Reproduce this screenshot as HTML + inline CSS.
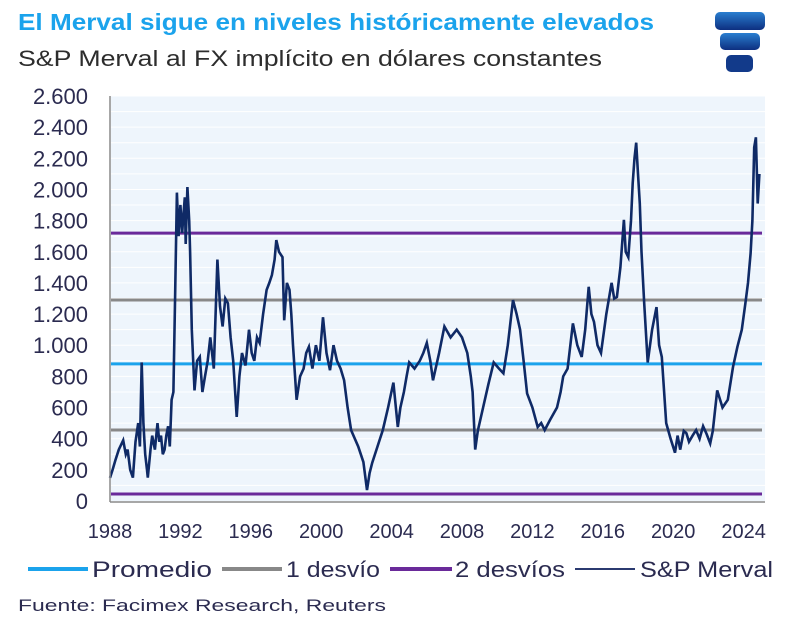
<!DOCTYPE html>
<html><head><meta charset="utf-8"><style>
html,body{margin:0;padding:0;background:#fff;width:800px;height:635px;overflow:hidden}
svg{display:block;font-family:"Liberation Sans",sans-serif}
</style></head><body>
<svg id="chart" width="800" height="635" viewBox="0 0 800 635" xmlns="http://www.w3.org/2000/svg">
<defs><linearGradient id="lg" x1="0" y1="0" x2="0" y2="1"><stop offset="0" stop-color="#2a7fd0"/><stop offset="1" stop-color="#0d2f80"/></linearGradient></defs>
<text x="18" y="30" font-size="23" font-weight="bold" fill="#1ba3ec" textLength="636" lengthAdjust="spacingAndGlyphs">El Merval sigue en niveles históricamente elevados</text>
<text x="18" y="66" font-size="22" fill="#2d2d2d" textLength="584" lengthAdjust="spacingAndGlyphs">S&amp;P Merval al FX implícito en dólares constantes</text>
<g>
<rect x="715" y="12" width="50" height="18" rx="5" fill="url(#lg)"/>
<rect x="720" y="33" width="40" height="17" rx="5" fill="url(#lg)"/>
<rect x="726" y="55" width="27" height="17" rx="5" fill="#123a8a"/>
</g>
<rect x="111" y="96" width="654" height="405" fill="#eef5fc"/>
<g id="grid"></g>
<g id="yticks"></g>
<g id="xticks"></g>
<g id="refs"></g>
<path id="series" fill="none" stroke="#0f2a66" stroke-width="2.6" stroke-linejoin="miter"/>
<line x1="110" y1="96" x2="110" y2="502" stroke="#8a8a8a" stroke-width="1.5"/>
<line x1="110" y1="502" x2="765" y2="502" stroke="#8a8a8a" stroke-width="1.5"/>
<g font-size="22" fill="#2b2b50">
<g><line x1="28" y1="569" x2="88" y2="569" stroke="#1ba3ec" stroke-width="4"/><text x="92" y="577" textLength="120" lengthAdjust="spacingAndGlyphs">Promedio</text></g>
<g><line x1="222" y1="569" x2="282" y2="569" stroke="#888" stroke-width="4"/><text x="286" y="577" textLength="94" lengthAdjust="spacingAndGlyphs">1 desvío</text></g>
<g><line x1="390" y1="569" x2="452" y2="569" stroke="#6a2a9a" stroke-width="4"/><text x="455" y="577" textLength="110" lengthAdjust="spacingAndGlyphs">2 desvíos</text></g>
<g><line x1="575" y1="569" x2="635" y2="569" stroke="#2b3a70" stroke-width="2"/><text x="640" y="577" textLength="133" lengthAdjust="spacingAndGlyphs">S&amp;P Merval</text></g>
</g>
<text x="18" y="611" font-size="17" fill="#2b2b50" textLength="368" lengthAdjust="spacingAndGlyphs">Fuente: Facimex Research, Reuters</text>
</svg>
<script>
const yTicks=[0,200,400,600,800,1000,1200,1400,1600,1800,2000,2200,2400,2600];
const yTickLabels=["0","200","400","600","800","1.000","1.200","1.400","1.600","1.800","2.000","2.200","2.400","2.600"];
const xTicks=[1988,1992,1996,2000,2004,2008,2012,2016,2020,2024];
const refNames=["promedio","1-desvio-sup","1-desvio-inf","2-desvios-sup","2-desvios-inf"];
const refValues=[880,1290,456,1720,45];
const refColors=["#1ba3ec","#888888","#888888","#6a2a9a","#6a2a9a"];
const dates=[1988.0,1988.15,1988.3,1988.5,1988.75,1988.9,1989.0,1989.15,1989.3,1989.45,1989.6,1989.7,1989.8,1989.9,1990.0,1990.1,1990.15,1990.3,1990.4,1990.55,1990.7,1990.8,1990.9,1991.0,1991.1,1991.2,1991.3,1991.4,1991.5,1991.6,1991.7,1991.8,1991.9,1992.0,1992.1,1992.15,1992.25,1992.3,1992.4,1992.5,1992.55,1992.65,1992.8,1992.95,1993.1,1993.25,1993.4,1993.55,1993.7,1993.9,1994.1,1994.25,1994.4,1994.55,1994.7,1994.85,1995.0,1995.2,1995.35,1995.5,1995.7,1995.9,1996.05,1996.2,1996.35,1996.5,1996.7,1996.9,1997.05,1997.2,1997.35,1997.45,1997.6,1997.8,1997.9,1998.05,1998.2,1998.3,1998.4,1998.6,1998.8,1999.0,1999.15,1999.3,1999.5,1999.7,1999.9,2000.1,2000.3,2000.5,2000.7,2000.9,2001.1,2001.3,2001.5,2001.7,2002.1,2002.4,2002.6,2002.75,2002.9,2003.2,2003.5,2003.8,2004.1,2004.35,2004.5,2004.7,2004.85,2005.0,2005.3,2005.6,2005.8,2006.0,2006.2,2006.35,2006.7,2007.0,2007.35,2007.7,2008.0,2008.3,2008.5,2008.6,2008.75,2008.9,2009.2,2009.5,2009.8,2010.1,2010.35,2010.6,2010.9,2011.1,2011.3,2011.5,2011.7,2012.0,2012.3,2012.5,2012.7,2013.0,2013.4,2013.6,2013.75,2014.0,2014.3,2014.55,2014.8,2015.0,2015.2,2015.35,2015.5,2015.7,2015.9,2016.2,2016.5,2016.65,2016.8,2017.0,2017.2,2017.3,2017.45,2017.6,2017.7,2017.8,2017.9,2018.0,2018.1,2018.2,2018.35,2018.55,2018.8,2019.05,2019.2,2019.35,2019.6,2019.85,2020.1,2020.25,2020.4,2020.6,2020.75,2020.9,2021.1,2021.3,2021.5,2021.7,2021.9,2022.1,2022.25,2022.5,2022.8,2023.1,2023.4,2023.65,2023.9,2024.1,2024.25,2024.4,2024.5,2024.6,2024.7,2024.8,2024.9,2025.0];
const merval=[148,200,260,330,390,300,330,200,150,380,500,350,890,500,300,200,150,330,420,330,500,380,420,300,330,420,480,350,650,700,1310,1980,1700,1900,1720,1800,1950,1650,2015,1800,1600,1100,710,900,925,700,800,900,1050,850,1550,1250,1120,1300,1270,1050,900,540,800,950,870,1100,950,900,1050,1015,1200,1355,1400,1450,1550,1675,1600,1565,1160,1400,1355,1200,1000,650,800,850,950,990,850,1000,900,1180,950,840,1000,900,850,775,600,455,350,250,70,180,245,350,455,600,760,475,600,700,800,890,850,900,950,1015,900,775,950,1120,1050,1100,1050,950,800,700,330,450,600,750,890,850,820,1000,1290,1200,1100,900,690,600,475,500,455,520,600,700,800,850,1140,1000,925,1100,1375,1200,1150,1000,950,1200,1400,1300,1310,1500,1805,1600,1565,1800,2040,2200,2300,2100,1910,1600,1270,890,1100,1245,1000,925,500,400,310,420,330,450,435,380,420,455,400,480,430,370,450,710,600,650,860,990,1100,1270,1400,1590,1800,2270,2335,1910,2100];
const X=v=>110+(v-1988)*17.6;
const Y=v=>501-v*405/2600;
const NS="http://www.w3.org/2000/svg";
const grid=document.getElementById('grid'),yt=document.getElementById('yticks'),xt=document.getElementById('xticks'),refs=document.getElementById('refs');
for(let v=100;v<=2600;v+=100){const l=document.createElementNS(NS,'line');l.setAttribute('x1',111);l.setAttribute('x2',765);l.setAttribute('y1',Y(v));l.setAttribute('y2',Y(v));l.setAttribute('stroke','#ffffff');l.setAttribute('stroke-width','1');


grid.appendChild(l);}
yTicks.forEach((v,i)=>{const t=document.createElementNS(NS,'text');t.setAttribute('x',88);t.setAttribute('y',Y(v)+8);t.setAttribute('text-anchor','end');t.setAttribute('font-size','22');t.setAttribute('fill','#2b2b50');t.textContent=yTickLabels[i];


yt.appendChild(t);});
xTicks.forEach(v=>{const t=document.createElementNS(NS,'text');t.setAttribute('x',X(v));t.setAttribute('y',538);t.setAttribute('text-anchor','middle');t.setAttribute('font-size','20');t.setAttribute('fill','#2b2b50');t.textContent=v;


xt.appendChild(t);});
refValues.forEach((v,i)=>{const l=document.createElementNS(NS,'line');l.setAttribute('x1',111);l.setAttribute('x2',762);l.setAttribute('y1',Y(v));l.setAttribute('y2',Y(v));l.setAttribute('stroke',refColors[i]);l.setAttribute('stroke-width','3');


refs.appendChild(l);});
let d='';dates.forEach((t,i)=>{d+=(i?'L':'M')+X(t).toFixed(1)+','+Y(merval[i]).toFixed(1);});
document.getElementById('series').setAttribute('d',d);
</script>
</body></html>
